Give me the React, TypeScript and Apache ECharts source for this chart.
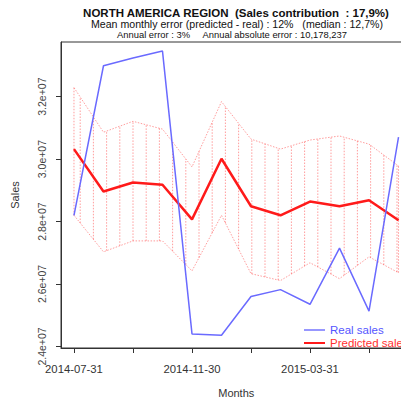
import React, { useEffect, useRef } from "react";
import * as echarts from "echarts";

const months = [
  "2014-07-31", "2014-08-31", "2014-09-30", "2014-10-31", "2014-11-30", "2014-12-31",
  "2015-01-31", "2015-02-28", "2015-03-31", "2015-04-30", "2015-05-31", "2015-06-30",
];
const realSales = [2.82e7, 3.299e7, 3.324e7, 3.346e7, 2.44e7, 2.436e7, 2.56e7, 2.582e7, 2.535e7, 2.715e7, 2.513e7, 3.07e7];
const predictedSales = [3.032e7, 2.896e7, 2.925e7, 2.918e7, 2.807e7, 3.001e7, 2.849e7, 2.82e7, 2.864e7, 2.849e7, 2.868e7, 2.804e7];
const upperBound = [3.229e7, 3.086e7, 3.121e7, 3.096e7, 2.975e7, 3.184e7, 3.064e7, 3.032e7, 3.061e7, 3.074e7, 3.048e7, 2.978e7];
const lowerBound = [2.82e7, 2.703e7, 2.738e7, 2.738e7, 2.642e7, 2.82e7, 2.633e7, 2.611e7, 2.668e7, 2.617e7, 2.687e7, 2.636e7];
const xTickIdx = [0, 2, 4, 6, 8, 10];
const xLabelIdx = [0, 4, 8];
const yTickValues = [2.4e7, 2.6e7, 2.8e7, 3.0e7, 3.2e7];
const yTickLabels = ["2.4e+07", "2.6e+07", "2.8e+07", "3.0e+07", "3.2e+07"];
const titleLines = [
  "NORTH AMERICA REGION  (Sales contribution  : 17,9%)",
  "Mean monthly error (predicted - real) : 12%   (median : 12,7%)",
  "Annual error : 3%     Annual absolute error : 10,178,237",
];

const FONT = "'Liberation Sans', Arial, sans-serif";
const BAND = "rgba(255,60,60,0.5)";

export default function App() {
  const ref = useRef<HTMLDivElement>(null);
  useEffect(() => {
    if (!ref.current) return;
    const chart = echarts.init(ref.current, null, { renderer: "svg" });
    const idx = months.map((_, i) => i);
    const pairs = (arr: number[]) => idx.map((i) => [i, arr[i]]);
    const hatchData = idx.slice(0, -1).map((i) => [i, lowerBound[i], upperBound[i], lowerBound[i + 1], upperBound[i + 1]]);
    const HATCH = 13.2;
    const HATCH_OFF = 6;
    const hatchStyle = { stroke: BAND, lineWidth: 1, lineDash: [1.5, 1.5], fill: null };

    const option: any = {
      animation: false,
      textStyle: { fontFamily: FONT },
      graphic: [
        { type: "text", x: 236, y: 13, style: { text: titleLines[0], font: `bold 11.5px ${FONT}`, fill: "#111", align: "center", verticalAlign: "middle" } },
        { type: "text", x: 237, y: 24, style: { text: titleLines[1], font: `10.6px ${FONT}`, fill: "#111", align: "center", verticalAlign: "middle" } },
        { type: "text", x: 232, y: 34, style: { text: titleLines[2], font: `9.4px ${FONT}`, fill: "#111", align: "center", verticalAlign: "middle" } },
      ],
      grid: { left: 61, top: 42, width: 350.5, height: 309, show: true, borderColor: "#333", borderWidth: 1, backgroundColor: "transparent" },
      legend: {
        left: 299, top: 319, orient: "vertical", itemGap: 1, itemWidth: 21, itemHeight: 12,
        textStyle: { fontSize: 11.5, fontFamily: FONT },
        data: [
          { name: "Real sales", icon: "path://M0,5.3 L21,5.3 L21,6.7 L0,6.7 Z", textStyle: { color: "#5555ff" } },
          { name: "Predicted sales", icon: "path://M0,5 L21,5 L21,7 L0,7 Z", textStyle: { color: "#ff3030" } },
        ],
      },
      xAxis: {
        type: "value", min: -0.44, max: 11.44,
        name: "Months", nameLocation: "middle", nameGap: 39,
        nameTextStyle: { fontSize: 11, color: "#333", fontFamily: FONT },
        axisLine: { show: true, onZero: false, lineStyle: { color: "#333" } },
        axisTick: { show: true, length: 5, customValues: xTickIdx, lineStyle: { color: "#333" } },
        axisLabel: { customValues: xLabelIdx, formatter: (v: number) => months[Math.round(v)], fontSize: 11.3, color: "#333", margin: 15, fontFamily: FONT },
        splitLine: { show: false },
      },
      yAxis: {
        type: "value", min: 2.395e7, max: 3.375e7,
        name: "Sales", nameLocation: "middle", nameGap: 41, nameRotate: 90,
        nameTextStyle: { fontSize: 11, color: "#333", fontFamily: FONT },
        axisLine: { show: true, onZero: false, lineStyle: { color: "#333" } },
        axisTick: { show: true, length: 5, customValues: yTickValues, lineStyle: { color: "#333" } },
        axisLabel: {
          customValues: yTickValues, rotate: 90, margin: 14, fontSize: 10.5, color: "#444", fontFamily: FONT,
          formatter: (v: number) => yTickLabels[yTickValues.findIndex((t) => Math.abs(t - v) < 1)] ?? "",
        },
        splitLine: { show: false },
      },
      series: [
        {
          type: "custom", name: "hatch", silent: true, z: 1,
          data: hatchData,
          renderItem: (params: any, api: any) => {
            const i = api.value(0);
            const a = api.coord([i, api.value(1)]);
            const b = api.coord([i, api.value(2)]);
            const c = api.coord([i + 1, api.value(3)]);
            const d = api.coord([i + 1, api.value(4)]);
            const x0 = params.coordSys.x + HATCH_OFF;
            const children: any[] = [];
            const kStart = Math.ceil((a[0] - x0) / HATCH);
            for (let k = kStart; x0 + k * HATCH < c[0]; k++) {
              const x = x0 + k * HATCH;
              const t = (x - a[0]) / (c[0] - a[0]);
              const yl = a[1] + t * (c[1] - a[1]);
              const yu = b[1] + t * (d[1] - b[1]);
              children.push({ type: "line", shape: { x1: x, y1: yl, x2: x, y2: yu }, style: hatchStyle });
            }
            if (i === 0) children.push({ type: "line", shape: { x1: a[0], y1: a[1], x2: b[0], y2: b[1] }, style: hatchStyle });
            if (i === months.length - 2) children.push({ type: "line", shape: { x1: c[0], y1: c[1], x2: d[0], y2: d[1] }, style: hatchStyle });
            return { type: "group", children };
          },
        },
        { type: "line", name: "upper", data: pairs(upperBound), symbol: "none", z: 2, lineStyle: { color: BAND, width: 1, type: [1.5, 1.5] } },
        { type: "line", name: "lower", data: pairs(lowerBound), symbol: "none", z: 2, lineStyle: { color: BAND, width: 1, type: [1.5, 1.5] } },
        { type: "line", name: "Predicted sales", data: pairs(predictedSales), symbol: "none", z: 3, color: "#ff1a1a", lineStyle: { color: "#ff1a1a", width: 2.5 } },
        { type: "line", name: "Real sales", data: pairs(realSales), symbol: "none", z: 4, color: "#6a6aff", lineStyle: { color: "#6a6aff", width: 1.5 } },
      ],
    };
    chart.setOption(option);
    return () => chart.dispose();
  }, []);
  return (
    <div style={{ position: "fixed", left: 0, top: 0, width: 401, height: 403, overflow: "hidden", background: "#fff" }}>
      <div ref={ref} style={{ width: 430, height: 403 }} />
    </div>
  );
}
